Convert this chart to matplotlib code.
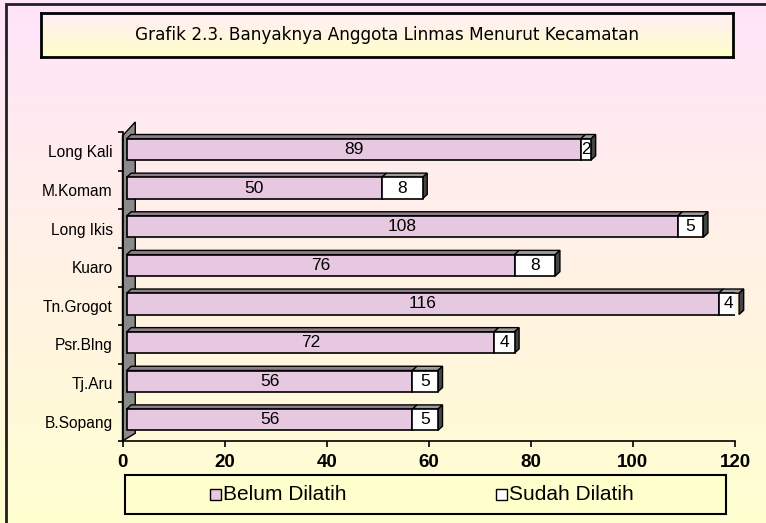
import numpy as np
import matplotlib
matplotlib.use("Agg")
import matplotlib.pyplot as plt
from matplotlib.patches import Rectangle, Polygon
from matplotlib.colors import to_rgb

# Data (top to bottom)
kecamatan = ["Long Kali", "M.Komam", "Long Ikis", "Kuaro",
             "Tn.Grogot", "Psr.Blng", "Tj.Aru", "B.Sopang"]
belum_dilatih = [89, 50, 108, 76, 116, 72, 56, 56]
sudah_dilatih = [2, 8, 5, 8, 4, 4, 5, 5]
x_ticks = [0, 20, 40, 60, 80, 100, 120]

title = "Grafik 2.3. Banyaknya Anggota Linmas Menurut Kecamatan"
legend_labels = ["Belum Dilatih", "Sudah Dilatih"]

W, H = 766, 523
PINK = "#E6C9E0"


def fx(x):
    return x / W


def fy(y):
    return 1 - y / H


def gradient(top, bottom, n=256):
    t = np.linspace(0, 1, n)[:, None]
    c0 = np.array(to_rgb(top))
    c1 = np.array(to_rgb(bottom))
    img = c0 * (1 - t) + c1 * t
    return img[:, None, :]


fig = plt.figure(figsize=(W / 100, H / 100), dpi=100)

# background gradient
bg = fig.add_axes([0, 0, 1, 1], zorder=-10)
bg.imshow(gradient("#FFE4FA", "#FFFFD0"), aspect="auto", extent=[0, 1, 0, 1])
bg.set_axis_off()

# outer frame (cut off at right and bottom)
fig.patches.append(Rectangle((fx(6), -0.2), 1.2, fy(4) + 0.2, transform=fig.transFigure,
                             fill=False, ec="#202020", lw=2))

# title box
tax = fig.add_axes([fx(41), fy(57), (733 - 41) / W, (57 - 13) / H])
tax.imshow(gradient("#FFEEF6", "#FFFFC8"), aspect="auto", extent=[0, 1, 0, 1])
tax.set_xticks([])
tax.set_yticks([])
for sp in tax.spines.values():
    sp.set_linewidth(2)
tax.text(0.5, 0.5, title, ha="center", va="center", fontsize=12.2,
         family="DejaVu Sans", transform=tax.transAxes)

# main axes
ax = fig.add_axes([fx(122.5), fy(441), (735 - 122.5) / W, (441 - 132) / H])
ax.set_facecolor("none")
ax.set_xlim(0, 120)
ax.set_ylim(-0.5, 7.5)

n = len(kecamatan)
ypos = np.arange(n)[::-1]

# side wall
wall = Polygon([(0, -0.5), (2.5, -0.3), (2.5, 7.76), (0, 7.4)],
               closed=True, fc="#8A8A8A", ec="black", lw=1, clip_on=False, zorder=1)
ax.add_patch(wall)

h = 0.55
x0 = 0.8
dx, dy = 0.9, 0.11
for y, b, s in zip(ypos, belum_dilatih, sudah_dilatih):
    yc = y + 0.05
    bot, top = yc - h / 2, yc + h / 2
    ax.add_patch(Polygon([(x0, top), (x0 + dx, top + dy), (x0 + b + dx, top + dy), (x0 + b, top)],
                         fc="#8E7C8A", ec="black", lw=1, zorder=2, clip_on=False))
    ax.add_patch(Polygon([(x0 + b, top), (x0 + b + dx, top + dy), (x0 + b + s + dx, top + dy),
                          (x0 + b + s, top)], fc="#9C9C9C", ec="black", lw=1, zorder=2, clip_on=False))
    ax.add_patch(Polygon([(x0 + b + s, bot), (x0 + b + s + dx, bot + dy), (x0 + b + s + dx, top + dy),
                          (x0 + b + s, top)], fc="#454545", ec="black", lw=1, zorder=2, clip_on=False))
    ax.add_patch(Rectangle((x0, bot), b, h, fc=PINK, ec="black", lw=1.2, zorder=3))
    ax.add_patch(Rectangle((x0 + b, bot), s, h, fc="white", ec="black", lw=1.2, zorder=3))
    ax.text(x0 + b / 2, yc, str(b), ha="center", va="center", fontsize=12.5,
            family="Liberation Sans", zorder=4)
    ax.text(x0 + b + s / 2, yc, str(s), ha="center", va="center", fontsize=12.5,
            family="Liberation Sans", zorder=4)

# axes styling
for side in ["top", "right"]:
    ax.spines[side].set_visible(False)
for side in ["left", "bottom"]:
    ax.spines[side].set_linewidth(1.2)
    ax.spines[side].set_zorder(5)

ax.set_xticks(x_ticks)
ax.set_xticklabels([str(v) for v in x_ticks], fontsize=13.5, fontweight="bold",
                   family="Liberation Sans")
ax.tick_params(axis="x", direction="out", length=4.5, width=1.2, pad=5)

ax.set_yticks(np.arange(-0.5, n, 1.0))
ax.set_yticklabels([])
ax.tick_params(axis="y", which="major", direction="out", length=3.5, width=1.2)
ax.set_yticks(ypos, minor=True)
ax.set_yticklabels(kecamatan, minor=True, fontsize=11.2, family="Liberation Sans")
ax.tick_params(axis="y", which="minor", length=0, pad=7)

# legend box
fig.patches.append(Rectangle((fx(125), fy(514)), (726 - 125) / W, (514 - 475) / H,
                             transform=fig.transFigure, fc="#FFFFCC", ec="black", lw=1.5))
leg_marker_x = [210, 496]
leg_colors = [PINK, "white"]
for mx, col, lab in zip(leg_marker_x, leg_colors, legend_labels):
    fig.patches.append(Rectangle((fx(mx), fy(500)), 11 / W, 11 / H, transform=fig.transFigure,
                                 fc=col, ec="black", lw=1))
    fig.text(fx(mx + 13), fy(495), lab, ha="left", va="center", fontsize=15,
             family="Liberation Sans")

fig.savefig("out.png", dpi=100)
